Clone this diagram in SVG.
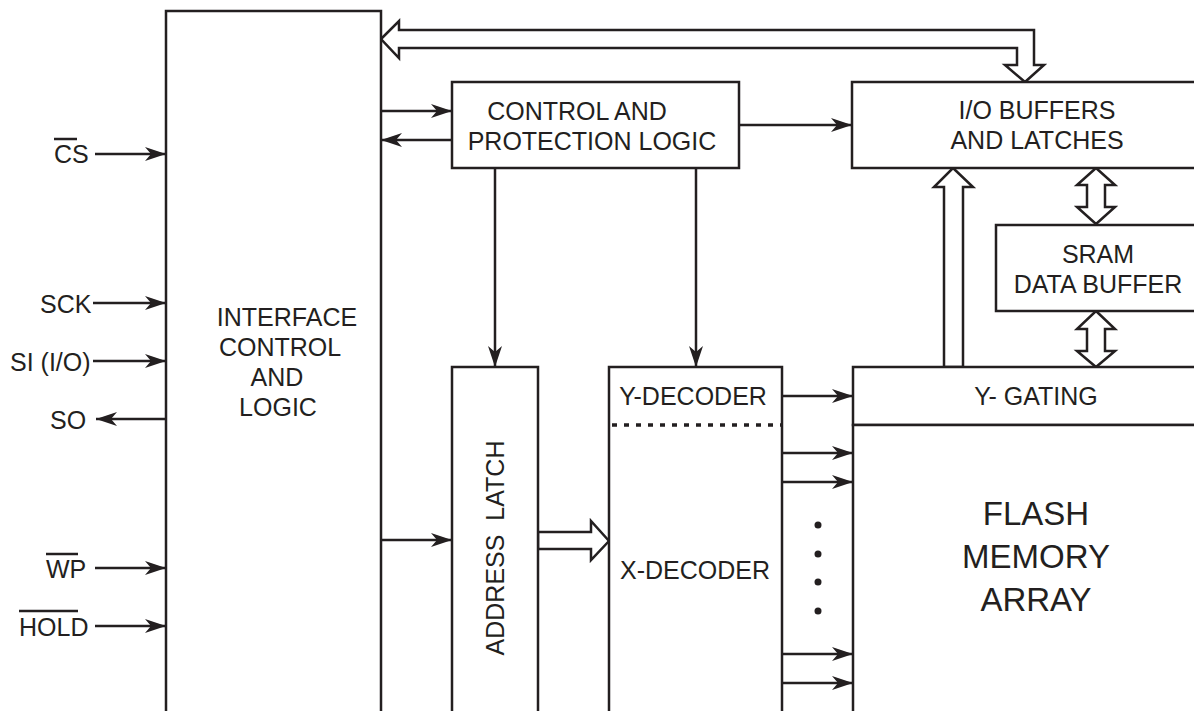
<svg xmlns="http://www.w3.org/2000/svg" width="1194" height="711" viewBox="0 0 1194 711">
<style>
.box{fill:#fff;stroke:#231f20;stroke-width:2.5}
.ln{fill:none;stroke:#231f20;stroke-width:2.5}
.arr{fill:none;stroke:#231f20;stroke-width:2.5;marker-end:url(#ah)}
.bus{fill:#fff;stroke:#231f20;stroke-width:2.5;stroke-linejoin:miter}
text{font-family:"Liberation Sans",Arial,sans-serif;font-size:25px;fill:#231f20}
.c{text-anchor:middle}
.big{font-size:33px}
</style>
<defs>
<marker id="ah" markerUnits="userSpaceOnUse" markerWidth="22" markerHeight="16" viewBox="0 0 22 16" refX="21" refY="8" orient="auto">
<path d="M0,1 L21,8 L0,15 L6,8 Z" fill="#231f20"/>
</marker>
</defs>
<g id="connectors">
<line class="arr" x1="95" y1="154" x2="166" y2="154"/>
<line class="arr" x1="93" y1="303" x2="166" y2="303"/>
<line class="arr" x1="93" y1="361" x2="166" y2="361"/>
<line class="arr" x1="166" y1="419" x2="96" y2="419"/>
<line class="arr" x1="95" y1="568" x2="166" y2="568"/>
<line class="arr" x1="95" y1="626" x2="166" y2="626"/>
<line class="arr" x1="381" y1="111" x2="452" y2="111"/>
<line class="arr" x1="452" y1="140" x2="381" y2="140"/>
<line class="arr" x1="739" y1="125" x2="852" y2="125"/>
<line class="arr" x1="495" y1="168" x2="495" y2="367"/>
<line class="arr" x1="696" y1="168" x2="696" y2="367"/>
<line class="arr" x1="381" y1="540" x2="452" y2="540"/>
<line class="arr" x1="782" y1="396" x2="853" y2="396"/>
<line class="arr" x1="782" y1="453" x2="853" y2="453"/>
<line class="arr" x1="782" y1="482" x2="853" y2="482"/>
<line class="arr" x1="782" y1="654" x2="853" y2="654"/>
<line class="arr" x1="782" y1="683" x2="853" y2="683"/>
<path class="bus" d="M381,39 L399,21 L399,30 L1034,30 L1034,65 L1044,65 L1025,82 L1005,65 L1017,65 L1017,48 L399,48 L399,58 Z"/>
<path class="bus" d="M953,168 L973,187 L963,187 L963,367 L944,367 L944,187 L934,187 Z"/>
<path class="bus" d="M1096,168 L1115,185 L1105,185 L1105,207 L1115,207 L1096,224 L1077,207 L1087,207 L1087,185 L1077,185 Z"/>
<path class="bus" d="M1096,311 L1115,329 L1105,329 L1105,351 L1115,351 L1096,367 L1077,351 L1087,351 L1087,329 L1077,329 Z"/>
<path class="bus" d="M538,532 L591,532 L591,521 L609,541 L591,560 L591,549 L538,549 Z"/>
</g>
<g id="signals">
<text x="54" y="163">CS</text>
<line class="ln" x1="54" y1="139" x2="77" y2="139" stroke-width="2"/>
<text x="40" y="313">SCK</text>
<text x="10" y="371">SI (I/O)</text>
<text x="50" y="429">SO</text>
<text x="46" y="578">WP</text>
<line class="ln" x1="46" y1="554" x2="78" y2="554" stroke-width="2"/>
<text x="19" y="636">HOLD</text>
<line class="ln" x1="19" y1="611" x2="78" y2="611" stroke-width="2"/>
</g>
<g id="interface">
<rect class="box" x="166" y="11" width="215" height="710"/>
<text class="c" x="287" y="326">INTERFACE</text>
<text class="c" x="280" y="356">CONTROL</text>
<text class="c" x="277" y="386">AND</text>
<text class="c" x="278" y="416">LOGIC</text>
</g>
<g id="control">
<rect class="box" x="452" y="82" width="287" height="86"/>
<text class="c" x="577" y="120">CONTROL AND</text>
<text class="c" x="592" y="150">PROTECTION LOGIC</text>
</g>
<g id="iobuffers">
<rect class="box" x="852" y="82" width="360" height="86"/>
<text class="c" x="1037" y="119">I/O BUFFERS</text>
<text class="c" x="1037" y="149">AND LATCHES</text>
</g>
<g id="sram">
<rect class="box" x="996" y="225" width="220" height="86"/>
<text class="c" x="1098" y="263">SRAM</text>
<text class="c" x="1098" y="293">DATA BUFFER</text>
</g>
<g id="ygating">
<rect class="box" x="853" y="367" width="360" height="58"/>
<text class="c" x="1036" y="405">Y- GATING</text>
</g>
<g id="flash">
<rect class="box" x="853" y="425" width="360" height="300"/>
<text class="c big" x="1036" y="525">FLASH</text>
<text class="c big" x="1036" y="568">MEMORY</text>
<text class="c big" x="1036" y="611">ARRAY</text>
</g>
<g id="addresslatch">
<rect class="box" x="452" y="367" width="86" height="360"/>
<text class="c" transform="translate(504,548) rotate(-90)" x="0" y="0">ADDRESS&#160; LATCH</text>
</g>
<g id="decoder">
<rect class="box" x="609" y="367" width="173" height="360"/>
<line x1="612" y1="425" x2="782" y2="425" stroke="#231f20" stroke-width="3.5" stroke-dasharray="5 7"/>
<text class="c" x="693" y="405">Y-DECODER</text>
<text class="c" x="695" y="579">X-DECODER</text>
</g>
<g id="dots" fill="#231f20">
<circle cx="818" cy="525" r="3.5"/>
<circle cx="818" cy="554" r="3.5"/>
<circle cx="818" cy="582" r="3.5"/>
<circle cx="818" cy="611" r="3.5"/>
</g>
</svg>
